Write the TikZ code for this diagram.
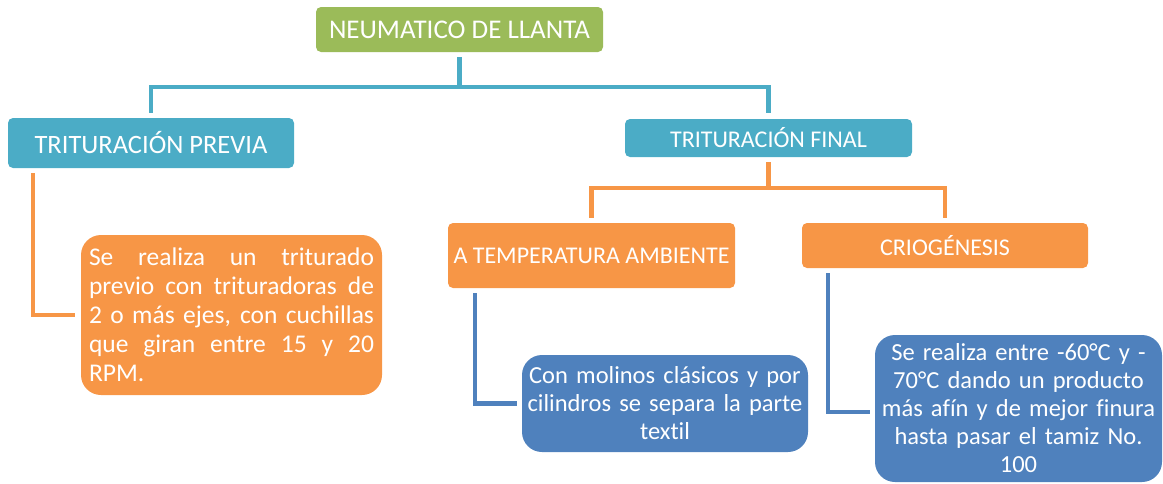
\documentclass[tikz,border=0pt]{standalone}
\usepackage{fontspec}
\setmainfont{Carlito}[Ligatures=NoCommon]
\usetikzlibrary{positioning, calc}
\definecolor{verde}{HTML}{9BBB59}
\definecolor{turquesa}{HTML}{4BACC6}
\definecolor{naranja}{HTML}{F79646}
\definecolor{azul}{HTML}{4F81BD}

\begin{document}
\begin{tikzpicture}[x=1pt, y=1pt,
    caja/.style={rectangle, rounded corners=5pt, text=white, inner sep=0pt, align=center, font=\fontsize{24}{28}\selectfont},
    texto/.style={rectangle, rounded corners=20pt, text=white, inner sep=0pt, font=\fontsize{24.5}{28}\selectfont},
    linea/.style={line width=4.5pt}
]
\useasboundingbox (0,0) rectangle (1163,-483);

% cajas de titulo
\node[caja, fill=verde, minimum width=287pt, minimum height=45pt, font=\fontsize{27}{31}\selectfont] (root) at (459.5,-29.5) {NEUMATICO DE LLANTA};
\node[caja, fill=turquesa, minimum width=286pt, minimum height=50pt, font=\fontsize{26.5}{30}\selectfont] (previa) at (151,-143) {TRITURACIÓN PREVIA};
\node[caja, fill=turquesa, minimum width=287pt, minimum height=38pt] (final) at (768.5,-138) {TRITURACIÓN FINAL};
\node[caja, fill=naranja, minimum width=287pt, minimum height=65pt] (ambiente) at (591.5,-255.5) {A TEMPERATURA AMBIENTE};
\node[caja, fill=naranja, minimum width=286pt, minimum height=45pt] (crio) at (945,-245.5) {CRIOGÉNESIS};

% cajas de texto
\node[texto, fill=naranja, minimum width=301pt, minimum height=160pt, text width=285pt, align=justify, font=\fontsize{25.5}{29}\selectfont] (desc1) at (231.5,-315)
  {Se realiza un triturado\linebreak previo con trituradoras de\linebreak 2 o más ejes, con cuchillas\linebreak que giran entre 15 y 20\linebreak RPM.};
\node[texto, fill=azul, minimum width=286pt, minimum height=97pt, text width=280pt, align=center] (desc2) at (665,-403.5)
  {Con molinos clásicos y por\\ cilindros se separa la parte\\ textil};
\node[texto, fill=azul, minimum width=287pt, minimum height=147pt, text width=280pt, align=center] (desc3) at (1018.5,-408.5)
  {Se realiza entre -60°C y -\\ 70°C dando un producto\\ más afín y de mejor finura\\ hasta pasar el tamiz No.\\ 100};

% conectores
\draw[linea, turquesa] ([yshift=-5pt]root.south) -- ++(0,-30) -| ([yshift=5pt]previa.north);
\draw[linea, turquesa] ([yshift=-5pt]root.south) -- ++(0,-30) -| ([yshift=6pt]final.north);
\draw[linea, naranja] ([yshift=-5pt]final.south) -- ++(0,-26) -| ([yshift=5pt]ambiente.north);
\draw[linea, naranja] ([yshift=-5pt]final.south) -- ++(0,-26) -| ([yshift=5pt]crio.north);
\draw[linea, naranja] ([xshift=25pt,yshift=-5pt]previa.south west) |- ([xshift=-6pt]desc1.west);
\draw[linea, azul] ([xshift=27pt,yshift=-5pt]ambiente.south west) |- ([xshift=-5pt]desc2.west);
\draw[linea, azul] ([xshift=26pt,yshift=-5pt]crio.south west) |- ([xshift=-5pt,yshift=-3.5pt]desc3.west);

\end{tikzpicture}
\end{document}
